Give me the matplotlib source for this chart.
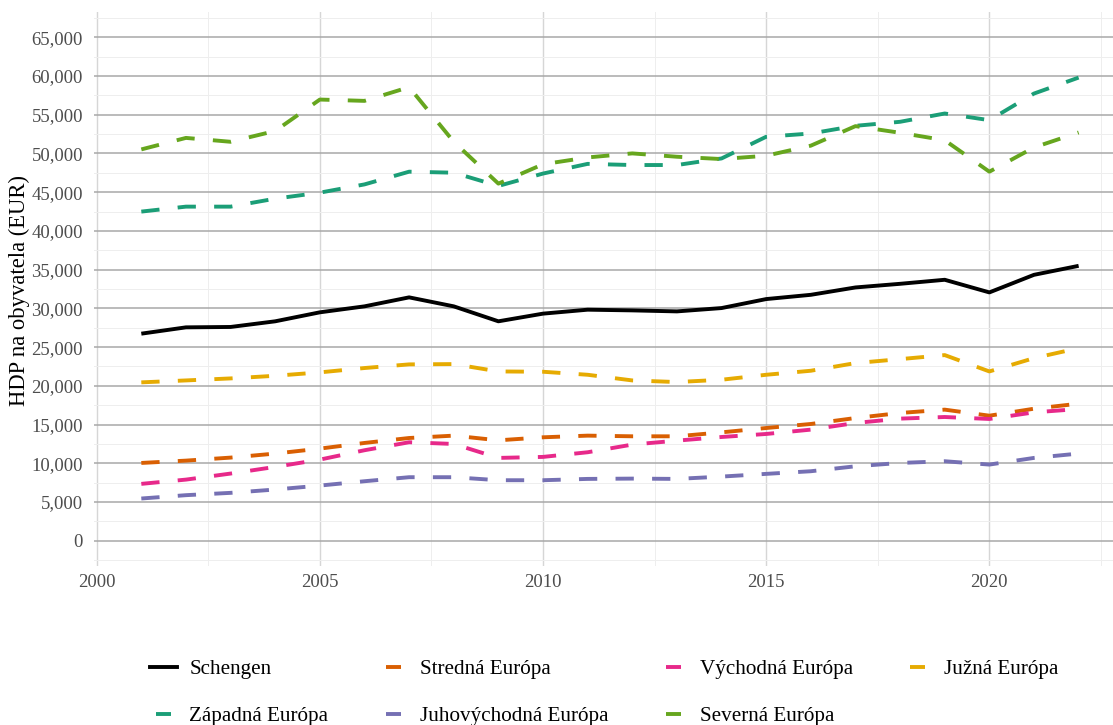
import matplotlib
matplotlib.use("Agg")
import matplotlib.pyplot as plt
from matplotlib.lines import Line2D
from matplotlib.ticker import MultipleLocator, FuncFormatter

years = list(range(2001, 2023))

schengen = [26735, 27550, 27600, 28330, 29490, 30260, 31420, 30260, 28330, 29320, 29830,
            29740, 29610, 30040, 31200, 31750, 32700, 33170, 33690, 32060, 34330, 35490]
stredna = [10050, 10350, 10740, 11260, 11900, 12630, 13270, 13575, 12970, 13360, 13575,
           13490, 13490, 14000, 14560, 15080, 15850, 16500, 16930, 16150, 17050, 17700]
vychodna = [7350, 7900, 8680, 9540, 10480, 11690, 12720, 12500, 10700, 10830, 11430,
            12420, 12930, 13400, 13790, 14350, 15210, 15770, 15980, 15725, 16580, 17010]
juzna = [20450, 20700, 20960, 21300, 21740, 22300, 22770, 22810, 21860, 21820, 21430,
         20700, 20490, 20790, 21430, 21950, 22940, 23450, 23970, 21860, 23580, 24870]
zapadna = [42490, 43130, 43130, 44160, 44935, 46000, 47640, 47510, 45800, 47400, 48650,
           48500, 48500, 49350, 52150, 52570, 53560, 54080, 55150, 54290, 57725, 59785]
juhovychodna = [5460, 5890, 6190, 6620, 7130, 7690, 8210, 8210, 7820, 7820, 7990,
                8030, 7990, 8290, 8640, 8980, 9620, 10050, 10270, 9840, 10700, 11260]
severna = [50515, 52000, 51500, 52900, 56950, 56780, 58550, 51500, 46100, 48600, 49480,
           50000, 49570, 49270, 49700, 51000, 53520, 52660, 51700, 47640, 50770, 52700]

series_names = ["Schengen", "Stredná Európa", "Východná Európa", "Južná Európa",
                "Západná Európa", "Juhovýchodná Európa", "Severná Európa"]
series_values = [schengen, stredna, vychodna, juzna, zapadna, juhovychodna, severna]
series_colors = ["#000000", "#D95F02", "#E7298A", "#E6AB02", "#1B9E77", "#7570B3", "#66A61E"]

plt.rcParams['font.family'] = ['Liberation Serif', 'DejaVu Serif']

W, H = 1113, 725
fig = plt.figure(figsize=(W / 100, H / 100), dpi=100)
ax = fig.add_axes([94 / W, 1 - 566 / H, (W - 94) / W, (566 - 12) / H])

lw = 2.8
for name, vals, col in zip(series_names, series_values, series_colors):
    if name == "Schengen":
        ax.plot(years, vals, color=col, lw=lw, solid_capstyle='butt', zorder=5)
    else:
        ax.plot(years, vals, color=col, lw=lw, linestyle=(0, (4.7, 4.7)),
                dash_capstyle='butt', zorder=4)

ax.set_xlim(1999.94, 2022.77)
ax.set_ylim(-3250, 68250)
ax.xaxis.set_major_locator(MultipleLocator(5))
ax.xaxis.set_minor_locator(MultipleLocator(2.5))
ax.yaxis.set_major_locator(MultipleLocator(5000))
ax.yaxis.set_minor_locator(MultipleLocator(2500))
ax.yaxis.set_major_formatter(FuncFormatter(lambda v, p: f"{int(round(v)):,}"))
ax.xaxis.set_major_formatter(FuncFormatter(lambda v, p: f"{int(round(v))}"))

ax.grid(which='major', axis='y', color='#a8a8a8', lw=1.1, zorder=1)
ax.grid(which='major', axis='x', color='#d6d6d6', lw=1.0, zorder=1)
ax.grid(which='minor', axis='both', color='#eeeeee', lw=0.7, zorder=0)
ax.set_axisbelow(True)
for s in ax.spines.values():
    s.set_visible(False)
ax.tick_params(which='both', length=0)
ax.tick_params(axis='y', pad=8, labelsize=13.5, labelcolor='#4d4d4d')
ax.tick_params(axis='x', pad=6, labelsize=13.5, labelcolor='#4d4d4d')

fig.text(19 / W, 1 - 291 / H, "HDP na obyvatela (EUR)", rotation=90,
         ha='center', va='center', fontsize=16.3, color='black')

# legend handles (row-major order via column filling)
lw_px = lw * 100 / 72
order = [0, 4, 1, 5, 2, 6, 3]
handles = []
for i in order:
    if series_names[i] == "Schengen":
        handles.append(Line2D([], [], color=series_colors[i], lw=lw))
    else:
        on = 15 / lw_px
        off = 30 / lw_px
        gap0 = 6 / lw_px
        handles.append(Line2D([], [], color=series_colors[i], lw=lw,
                              linestyle=(on + off - gap0, (on, off)), dash_capstyle='butt'))
labels = [series_names[i] for i in order]
leg = fig.legend(handles, labels, ncol=4, loc='center',
                 bbox_to_anchor=(604 / W, 1 - 693 / H), frameon=False,
                 fontsize=15.2, handlelength=1.28, handletextpad=0.6,
                 columnspacing=2.45, labelspacing=1.3)

fig.savefig("out.png", dpi=100)
